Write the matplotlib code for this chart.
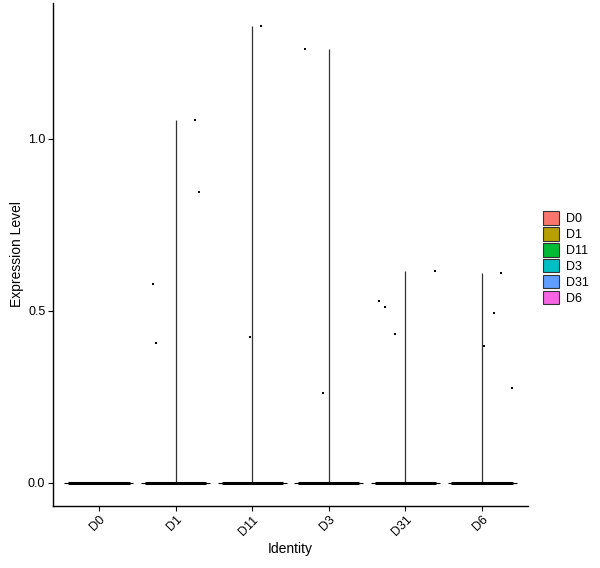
import numpy as np
import matplotlib
matplotlib.use("Agg")
import matplotlib.pyplot as plt
from matplotlib.patches import Patch

plt.rcParams['font.family'] = ['Liberation Sans', 'DejaVu Sans']

groups = ["D0", "D1", "D11", "D3", "D31", "D6"]
colors = ["#F8766D", "#B79F00", "#00BA38", "#00BFC4", "#619CFF", "#F564E3"]

# non-zero cells per group: expression value and jitter offset
vals = {
    "D0": [],
    "D1": [0.578, 0.407, 1.055, 0.846],
    "D11": [1.328, 0.424],
    "D3": [1.262, 0.262],
    "D31": [0.529, 0.512, 0.433, 0.616],
    "D6": [0.398, 0.494, 0.610, 0.276],
}
jit = {
    "D0": [],
    "D1": [-0.30, -0.26, 0.26, 0.31],
    "D11": [0.12, -0.03],
    "D3": [-0.31, -0.08],
    "D31": [-0.34, -0.26, -0.14, 0.38],
    "D6": [0.03, 0.16, 0.25, 0.39],
}

fig = plt.figure(figsize=(6, 5.68), dpi=100)
ax = fig.add_axes([0.0883, 0.1092, 0.7917, 0.8855])

for i, g in enumerate(groups):
    x = i + 1
    v = np.array(vals[g])
    # violin outline (zero width except at 0)
    ax.hlines(0, x - 0.45, x + 0.45, color="black", lw=0.8, zorder=2)
    if len(v):
        ax.vlines(x, 0, v.max(), color="#333333", lw=0.9, zorder=2)
    # jittered zeros form a solid band
    ax.hlines(0, x - 0.4, x + 0.4, color="black", lw=2.2, zorder=3)
    if len(v):
        ax.scatter(x + np.array(jit[g]), v, s=4.5, marker="s", color="black",
                   linewidths=0, zorder=4)

ax.set_xlim(0.4, 6.6)
ax.set_ylim(-0.067, 1.395)
ax.set_xticks(range(1, 7))
ax.set_xticklabels(groups, rotation=45, ha="right", va="top",
                   rotation_mode="anchor", fontsize=9)
ax.set_yticks([0, 0.5, 1.0])
ax.set_yticklabels(["0.0", "0.5", "1.0"], fontsize=9)
ax.tick_params(length=3.5, width=0.8, colors="black", pad=2)
for s in ["top", "right"]:
    ax.spines[s].set_visible(False)
for s in ["left", "bottom"]:
    ax.spines[s].set_linewidth(1.0)

ax.set_xlabel("Identity", fontsize=10, labelpad=3)
ax.set_ylabel("Expression Level", fontsize=10, labelpad=3)

handles = [Patch(facecolor=c, edgecolor="#333333", lw=0.8) for c in colors]
leg = fig.legend(handles, groups, loc="center left", bbox_to_anchor=(0.897, 0.546),
                 frameon=False, fontsize=9, handlelength=1.3, handleheight=1.3,
                 handletextpad=0.5, labelspacing=0.15, borderaxespad=0)

fig.savefig("out.png", dpi=100)
